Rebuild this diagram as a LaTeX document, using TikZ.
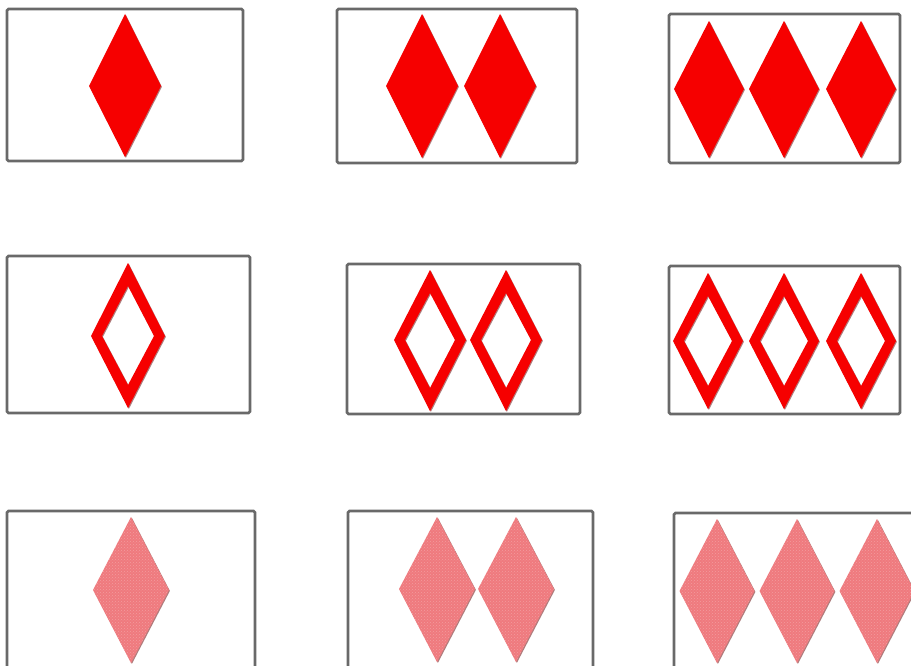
\documentclass[tikz,border=0pt]{standalone}
\usetikzlibrary{patterns}
\definecolor{cardred}{RGB}{246,0,0}
\definecolor{cardpink}{RGB}{239,122,126}
\definecolor{cardgray}{RGB}{105,105,105}
\definecolor{shade}{RGB}{110,20,20}
\tikzset{
  card/.style={draw=cardgray, line width=2.6pt, rounded corners=1.5pt, fill=white},
  solidfill/.style={fill=cardred},
  pinkfill/.style={fill=cardpink},
  shadowfill/.style={fill=shade, opacity=0.55},
}
% #1 cx, #2 mid y, #3 half width, #4 top, #5 bottom
\newcommand\mydiapath[5]{(#1,#4) -- ({#1+#3},#2) -- (#1,#5) -- ({#1-#3},#2) -- cycle}
\newcommand\soliddia[5]{%
  \fill[shadowfill] ([shift={(0.9,0.9)}]#1,#4) -- ([shift={(0.9,0.9)}]{#1+#3},#2) -- ([shift={(0.9,0.9)}]#1,#5) -- ([shift={(0.9,0.9)}]{#1-#3},#2) -- cycle;
  \fill[solidfill] \mydiapath{#1}{#2}{#3}{#4}{#5};}
\newcommand\pinkdia[5]{%
  \fill[shadowfill] ([shift={(0.9,0.9)}]#1,#4) -- ([shift={(0.9,0.9)}]{#1+#3},#2) -- ([shift={(0.9,0.9)}]#1,#5) -- ([shift={(0.9,0.9)}]{#1-#3},#2) -- cycle;
  \fill[pinkfill] \mydiapath{#1}{#2}{#3}{#4}{#5};
  \fill[pattern=crosshatch dots, pattern color=white, opacity=0.25] \mydiapath{#1}{#2}{#3}{#4}{#5};}
\newcommand\ringdia[5]{%
  \fill[shadowfill, even odd rule] ([shift={(0.9,0.9)}]#1,#4) -- ([shift={(0.9,0.9)}]{#1+#3},#2) -- ([shift={(0.9,0.9)}]#1,#5) -- ([shift={(0.9,0.9)}]{#1-#3},#2) -- cycle
     ([shift={(0.9,0.9)}]#1,{#4+23}) -- ([shift={(0.9,0.9)}]{#1+#3-11},#2) -- ([shift={(0.9,0.9)}]#1,{#5-23}) -- ([shift={(0.9,0.9)}]{#1-#3+11},#2) -- cycle;
  \fill[solidfill, even odd rule] \mydiapath{#1}{#2}{#3}{#4}{#5}
     (#1,{#4+23}) -- ({#1+#3-11},#2) -- (#1,{#5-23}) -- ({#1-#3+11},#2) -- cycle;}
\begin{document}
\begin{tikzpicture}[x=1pt,y=-1pt]
\useasboundingbox (0,0) rectangle (911,666);
\clip (0,0) rectangle (911,666);
\fill[white] (0,0) rectangle (911,666);
% Row 1: solid
\draw[card] (7,9) rectangle (243,161);
\soliddia{125}{86}{36}{14}{157}
\draw[card] (337,9) rectangle (577,163);
\soliddia{422}{86}{36}{14}{158}
\soliddia{500}{86}{36}{14}{158}
\draw[card] (669,14) rectangle (900,163);
\soliddia{709}{89}{35}{21}{158}
\soliddia{784}{89}{35}{21}{158}
\soliddia{861}{89}{35}{21}{158}
% Row 2: outlined
\draw[card] (7,256) rectangle (250,413);
\ringdia{128}{336}{37}{263}{408}
\draw[card] (347,264) rectangle (580,414);
\ringdia{430}{340}{36}{270}{411}
\ringdia{506}{340}{36}{270}{411}
\draw[card] (669,266) rectangle (900,414);
\ringdia{708}{341}{35}{273}{409}
\ringdia{784}{341}{35}{273}{409}
\ringdia{861}{341}{35}{273}{409}
% Row 3: pink textured
\draw[card] (7,511) rectangle (255,720);
\pinkdia{131}{590}{38}{517}{663}
\draw[card] (348,511) rectangle (593,720);
\pinkdia{437}{589}{38}{517}{662}
\pinkdia{516}{589}{38}{517}{662}
\draw[card] (674,513) rectangle (960,720);
\pinkdia{717}{591}{37.5}{519}{663}
\pinkdia{797}{591}{37.5}{519}{663}
\pinkdia{877}{591}{37.5}{519}{663}
\end{tikzpicture}
\end{document}
